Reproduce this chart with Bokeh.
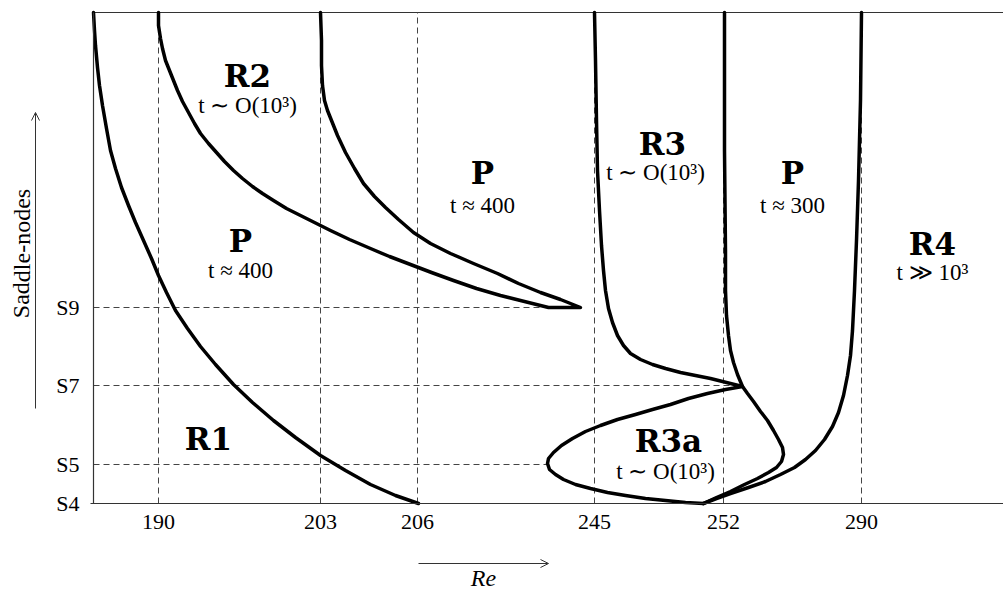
from bokeh.plotting import figure
from bokeh.models import Range1d, FixedTicker, Arrow, OpenHead, ColumnDataSource, LinearAxis
from bokeh.core.properties import value
from bokeh.embed import file_html
from bokeh.resources import INLINE

# ---- axis ticks (schematic positions) ----
re_ticks = [65, 227, 324, 501, 630, 768]
re_labels = ["190", "203", "206", "245", "252", "290"]
sn_ticks = [0, 39, 118, 196]
sn_labels = ["S4", "S5", "S7", "S9"]
y_top = 491
x_right = 910

# ---- dashed guide lines ----
hline_y = [196, 118, 39]
hline_x_end = [455, 649, 454]

# ---- boundary curves (schematic) ----
r1_x = [0, 1, 2, 4, 6, 9, 13, 17, 22, 28, 35, 42, 50, 58, 65, 73, 82, 94, 107, 122, 140, 159,
        180, 202, 227, 252, 277, 302, 325]
r1_y = [491, 473, 458, 436, 418, 398, 375, 353, 335, 316, 298, 281, 263, 245, 228, 211, 193, 175,
        157, 139, 119, 101, 83, 66, 48, 33, 19, 8, 0]

fold_x = [65, 65, 67, 69, 72, 76, 80, 84, 89, 95, 101, 107, 115, 123, 131, 140, 149, 159, 169, 180,
          193, 207, 221, 237, 256, 277, 296, 317, 338, 360, 383, 407, 431, 455,
          487, 467, 447, 425, 404, 380, 357, 337, 320, 305, 292, 281, 270, 261, 252, 244, 238,
          234, 231, 229, 228, 228, 227]
fold_y = [491, 478, 465, 455, 443, 433, 423, 413, 402, 391, 380, 370, 360, 351, 342, 333, 325, 317,
          310, 303, 295, 288, 281, 273, 264, 255, 247, 239, 231, 223, 215, 208, 202, 196,
          196, 204, 211, 220, 230, 240, 250, 260, 271, 284, 296, 307, 320, 335, 351, 368, 383,
          393, 403, 418, 438, 463, 491]

r3_x = [501, 502, 503, 504, 506, 508, 510, 512, 515, 519, 524, 530, 537, 547, 559, 572, 587, 602,
        617, 633, 649, 632, 614, 595, 577, 559, 542, 524, 507, 492, 479, 468, 460, 455, 454, 456,
        462, 470, 482, 497, 514, 532, 552, 572, 592, 610]
r3_y = [491, 443, 383, 333, 293, 258, 233, 213, 195, 181, 168, 158, 150, 144, 139, 135, 131, 128,
        125, 121, 117, 114, 110, 105, 99, 94, 89, 84, 78, 72, 65, 58, 51, 45, 40, 34,
        29, 24, 19, 15, 11, 8, 5, 3, 1, 0]

pr_x = [631, 631, 632, 632, 633, 635, 637, 640, 644, 649, 654, 660, 667, 674, 680, 685, 689, 690,
        688, 683, 675, 664, 651, 637, 623, 610]
pr_y = [491, 353, 253, 213, 188, 168, 153, 141, 129, 117, 110, 102, 92, 83, 73, 64, 56, 49,
        42, 36, 31, 25, 19, 12, 6, 0]

r4_x = [768, 767, 765, 763, 761, 759, 757, 754, 750, 745, 739, 731, 722, 712, 701, 687, 672, 655,
        637, 623, 610]
r4_y = [491, 403, 323, 263, 213, 173, 148, 128, 108, 91, 77, 64, 53, 44, 36, 29, 22, 16,
        10, 5, 0]

# ---- region labels ----
reg_names = ["R2", "P", "P", "R3", "P", "R4", "R1", "R3a"]
reg_x = [154, 147, 389, 569, 699, 839, 115, 575]
reg_y = [428, 263, 331, 360, 331, 260, 65, 63]
sub_text = ["t ∼ O(10³)", "t ≈ 400", "t ≈ 400", "t ∼ O(10³)", "t ≈ 300", "t ≫ 10³", "t ∼ O(10³)"]
sub_x = [154, 147, 389, 562, 699, 839, 572]
sub_y = [398, 233, 298, 331, 298, 231, 32]

# ---- axis names ----
x_name = "Re"
y_name = "Saddle-nodes"

FONT = "Liberation Serif"
AX = "#333333"

p = figure(width=1003, height=589, output_backend="svg", toolbar_location=None,
           x_range=Range1d(-93, x_right), y_range=Range1d(-86, 503),
           x_axis_location=None, y_axis_location=None, min_border=0)
p.grid.visible = False
p.outline_line_color = None
p.background_fill_color = "white"
p.border_fill_color = "white"

xax = LinearAxis(fixed_location=0, bounds=(-3, x_right), ticker=FixedTicker(ticks=re_ticks))
yax = LinearAxis(fixed_location=0, bounds=(0, y_top), ticker=FixedTicker(ticks=sn_ticks))
xax.major_label_overrides = {t: l for t, l in zip(re_ticks, re_labels)}
yax.major_label_overrides = {t: l for t, l in zip(sn_ticks, sn_labels)}
for ax in (xax, yax):
    ax.major_tick_line_color = None
    ax.minor_tick_line_color = None
    ax.axis_line_color = AX
    ax.axis_line_width = 1.2
    ax.major_label_text_font = FONT
    ax.major_label_text_font_size = "22px"
    ax.major_label_text_color = "black"
xax.major_label_standoff = 5
yax.major_label_standoff = 8
p.add_layout(xax, "below")
p.add_layout(yax, "left")

# top border line
p.segment(x0=[0], y0=[y_top], x1=[x_right], y1=[y_top], line_color=AX, line_width=1.2)

# dashed guides
p.segment(x0=re_ticks, y0=[0] * len(re_ticks), x1=re_ticks, y1=[y_top] * len(re_ticks),
          line_color="#444444", line_width=1, line_dash="6 4")
p.segment(x0=[0] * len(hline_y), y0=hline_y, x1=hline_x_end, y1=hline_y,
          line_color="#444444", line_width=1, line_dash="6 4")

# curves
for xs, ys in [(r1_x, r1_y), (fold_x, fold_y), (r3_x, r3_y), (pr_x, pr_y), (r4_x, r4_y)]:
    p.line(xs, ys, line_color="black", line_width=3.5, line_join="round", line_cap="round")

# labels
src_r = ColumnDataSource(dict(x=reg_x, y=reg_y, t=reg_names))
p.text(x="x", y="y", text="t", source=src_r, text_font=value("DejaVu Serif"),
       text_font_style="bold", text_font_size="31px", text_align="center",
       text_baseline="middle", text_color="black")
src_s = ColumnDataSource(dict(x=sub_x, y=sub_y, t=sub_text))
p.text(x="x", y="y", text="t", source=src_s, text_font=value(FONT),
       text_font_size="23px", text_align="center", text_baseline="middle", text_color="black")

# axis arrows and names
p.add_layout(Arrow(x_start=325, y_start=-60, x_end=455, y_end=-60, line_width=1,
                   line_color=AX, end=OpenHead(size=8, line_width=1, line_color=AX)))
p.text(x=[390], y=[-74], text=[x_name], text_font=value(FONT), text_font_style="italic",
       text_font_size="24px", text_align="center", text_baseline="middle", text_color="black")
p.add_layout(Arrow(x_start=-58, y_start=95, x_end=-58, y_end=391, line_width=1,
                   line_color=AX, end=OpenHead(size=8, line_width=1, line_color=AX)))
p.text(x=[-72], y=[250], text=[y_name], angle=1.5707963, text_font=value(FONT),
       text_font_size="24px", text_align="center", text_baseline="middle", text_color="black")

open("out.html", "w").write(file_html(p, INLINE))
